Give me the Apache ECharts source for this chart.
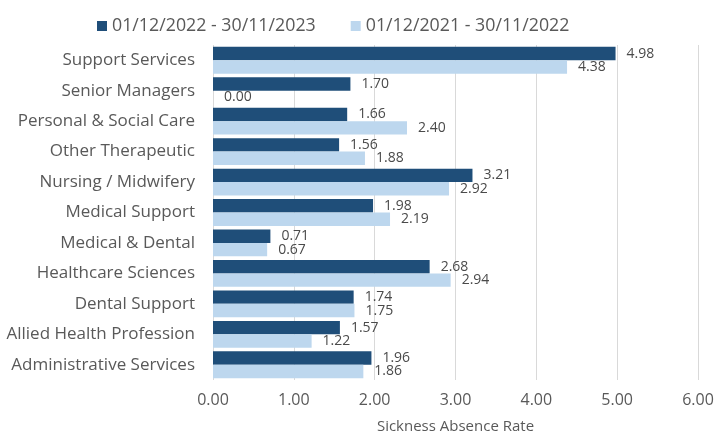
<!DOCTYPE html>
<html>
<head>
<meta charset="utf-8">
<script src="https://cdn.jsdelivr.net/npm/echarts@6/dist/echarts.min.js"></script>
<style>
  html, body { margin: 0; padding: 0; background: #fff; }
  #chart { width: 717px; height: 439px; }
</style>
</head>
<body>
<div id="chart"></div>
<script>
// Staff groups, listed top to bottom
const categories = [
  'Support Services',
  'Senior Managers',
  'Personal & Social Care',
  'Other Therapeutic',
  'Nursing / Midwifery',
  'Medical Support',
  'Medical & Dental',
  'Healthcare Sciences',
  'Dental Support',
  'Allied Health Profession',
  'Administrative Services'
];
const seriesNames = ['01/12/2022 - 30/11/2023', '01/12/2021 - 30/11/2022'];
const rateCurrent = [4.98, 1.70, 1.66, 1.56, 3.21, 1.98, 0.71, 2.68, 1.74, 1.57, 1.96];
const ratePrevious = [4.38, 0.00, 2.40, 1.88, 2.92, 2.19, 0.67, 2.94, 1.75, 1.22, 1.86];
const xTicks = [0, 1, 2, 3, 4, 5, 6];

const FONT = '"Open Sans", Lato, sans-serif';
const TEXT = '#595959';
const chart = echarts.init(document.getElementById('chart'));

function barSeries(name, data, color) {
  return {
    name: name,
    type: 'bar',
    data: data,
    barGap: '0%',
    barCategoryGap: '12%',
    itemStyle: { color: color },
    label: {
      show: true,
      position: 'right',
      distance: 11,
      color: '#4a4a4a',
      fontFamily: FONT,
      fontSize: 14,
      formatter: p => p.value.toFixed(2)
    }
  };
}

chart.setOption({
  animation: false,
  textStyle: { fontFamily: FONT },
  legend: {
    top: 12,
    left: 92,
    itemWidth: 10,
    itemHeight: 10,
    itemGap: 35,
    icon: 'rect',
    textStyle: { color: TEXT, fontSize: 17.8, fontFamily: FONT }
  },
  grid: { left: 213, right: 19, top: 45, bottom: 54 },
  xAxis: {
    type: 'value',
    min: xTicks[0],
    max: xTicks[xTicks.length - 1],
    interval: 1,
    name: 'Sickness Absence Rate',
    nameLocation: 'middle',
    nameGap: 39,
    nameTextStyle: { color: TEXT, fontSize: 15, fontFamily: FONT },
    axisLine: { show: false },
    axisTick: { show: false },
    axisLabel: {
      color: TEXT,
      fontSize: 16,
      margin: 12,
      fontFamily: FONT,
      formatter: v => v.toFixed(2)
    },
    splitLine: { show: true, lineStyle: { color: '#d9d9d9', width: 1 } }
  },
  yAxis: {
    type: 'category',
    data: categories,
    inverse: true,
    axisLine: { show: false },
    axisTick: { show: false },
    axisLabel: {
      color: TEXT,
      fontSize: 17,
      margin: 18,
      padding: [4, 0, 0, 0],
      fontFamily: FONT
    }
  },
  series: [
    barSeries(seriesNames[0], rateCurrent, '#1f4e79'),
    barSeries(seriesNames[1], ratePrevious, '#bdd7ee')
  ]
});
</script>
</body>
</html>
